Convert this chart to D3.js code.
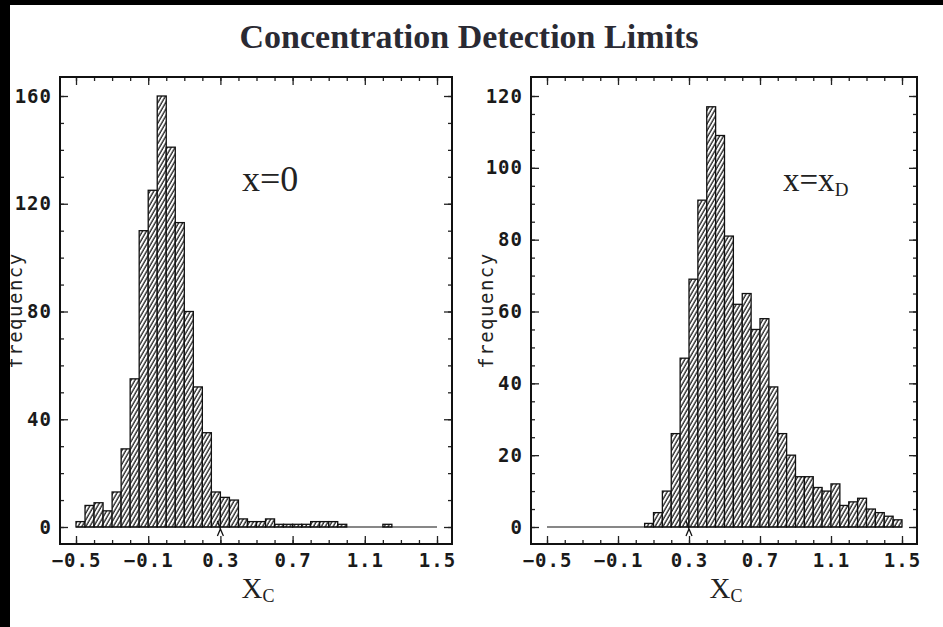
<!DOCTYPE html>
<html lang="en">
<head>
<meta charset="UTF-8">
<title>Concentration Detection Limits</title>
<script src="https://cdn.jsdelivr.net/npm/d3@7"></script>
<style>
  html, body { margin: 0; background: #fff; overflow: hidden; }
  svg { display: block; }
  .tick text { font-family: "DejaVu Sans Mono", monospace; font-weight: bold; font-size: 19px; fill: #1a1a1a; letter-spacing: 1px; }
</style>
</head>
<body>
<script>

// bin lower edges (width 0.05)
const binLo = [-0.5, -0.45, -0.4, -0.35, -0.3, -0.25, -0.2, -0.15, -0.1, -0.05,
               0.0, 0.05, 0.1, 0.15, 0.2, 0.25, 0.3, 0.35, 0.4, 0.45,
               0.5, 0.55, 0.6, 0.65, 0.7, 0.75, 0.8, 0.85, 0.9, 0.95,
               1.0, 1.05, 1.1, 1.15, 1.2, 1.25, 1.3, 1.35, 1.4, 1.45];
const binWidth = 0.05;

const countsZero = [2, 8, 9, 6, 13, 29, 55, 110, 125, 160,
                    141, 113, 80, 52, 35, 13, 11, 10, 3, 2,
                    2, 3, 1, 1, 1, 1, 2, 2, 2, 1,
                    0, 0, 0, 0, 1, 0, 0, 0, 0, 0];
const countsXD = [0, 0, 0, 0, 0, 0, 0, 0, 0, 0,
                  0, 1, 4, 10, 26, 47, 69, 91, 117, 109,
                  81, 62, 65, 55, 58, 39, 26, 20, 14, 14,
                  11, 10, 12, 6, 7, 8, 5, 4, 3, 2];

const xMajor = [-0.5, -0.1, 0.3, 0.7, 1.1, 1.5];
const xMinor = [-0.5, -0.4, -0.3, -0.2, -0.1, 0.0, 0.1, 0.2, 0.3, 0.4, 0.5,
                0.6, 0.7, 0.8, 0.9, 1.0, 1.1, 1.2, 1.3, 1.4, 1.5];
const yMajorZero = [0, 40, 80, 120, 160];
const yMinorZero = [0, 10, 20, 30, 40, 50, 60, 70, 80, 90, 100, 110, 120, 130, 140, 150, 160];
const yMajorXD = [0, 20, 40, 60, 80, 100, 120];
const yMinorXD = [0, 5, 10, 15, 20, 25, 30, 35, 40, 45, 50, 55, 60, 65, 70, 75, 80, 85, 90, 95, 100, 105, 110, 115, 120];
const markX = 0.3;

const W = 943, H = 627;
const svg = d3.select("body").append("svg").attr("width", W).attr("height", H);

const defs = svg.append("defs");
const pat = defs.append("pattern")
    .attr("id", "hatch")
    .attr("patternUnits", "userSpaceOnUse")
    .attr("width", 3.4).attr("height", 10)
    .attr("patternTransform", "rotate(30)");
pat.append("rect").attr("width", 3.4).attr("height", 10).attr("fill", "#fff");
pat.append("line").attr("x1", 1).attr("x2", 1).attr("y1", 0).attr("y2", 10)
    .attr("stroke", "#1a1a1a").attr("stroke-width", 1.3);

svg.append("text")
    .attr("x", 469).attr("y", 48)
    .attr("text-anchor", "middle")
    .attr("font-family", "Liberation Serif, serif")
    .attr("font-weight", "bold")
    .attr("font-size", 34)
    .attr("fill", "#2a2a33")
    .text("Concentration Detection Limits");

function panel(left, right, counts, yMax, yMajor, yMinor, label, sub) {
    const top = 77, bottom = 544;
    const x = d3.scaleLinear().domain([-0.5, 1.5]).range([left + 16, right - 15]);
    const y = d3.scaleLinear().domain([0, yMax]).range([527, 96]);
    const g = svg.append("g");

    // bars
    g.append("g").selectAll("rect")
        .data(counts.map((c, i) => ({lo: binLo[i], c})).filter(d => d.c > 0))
        .join("rect")
        .attr("x", d => x(d.lo))
        .attr("width", d => x(d.lo + binWidth) - x(d.lo))
        .attr("y", d => y(d.c))
        .attr("height", d => y(0) - y(d.c))
        .attr("fill", "url(#hatch)")
        .attr("stroke", "#111")
        .attr("stroke-width", 1.3);

    // baseline
    g.append("line")
        .attr("x1", x(-0.5)).attr("x2", x(1.5))
        .attr("y1", y(0)).attr("y2", y(0))
        .attr("stroke", "#111").attr("stroke-width", 1.2);

    // small arrow at x = 0.3
    const mx = x(markX);
    g.append("path")
        .attr("d", `M${mx - 3},${y(0) + 9} L${mx},${y(0) + 2} L${mx + 3},${y(0) + 9} M${mx},${y(0) + 2} L${mx - 3},${y(0) - 6}`)
        .attr("fill", "none").attr("stroke", "#111").attr("stroke-width", 1.3);

    // axes
    const ax = (a, tr) => g.append("g").attr("transform", tr).call(a).call(s => s.select(".domain").remove());
    ax(d3.axisBottom(x).tickValues(xMinor).tickSize(-4).tickFormat(""), `translate(0,${bottom})`);
    ax(d3.axisBottom(x).tickValues(xMajor).tickSize(-8).tickPadding(10).tickFormat(d3.format(".1f")), `translate(0,${bottom})`);
    ax(d3.axisTop(x).tickValues(xMinor).tickSize(-4).tickFormat(""), `translate(0,${top})`);
    ax(d3.axisTop(x).tickValues(xMajor).tickSize(-8).tickFormat(""), `translate(0,${top})`);
    ax(d3.axisLeft(y).tickValues(yMinor).tickSize(-4).tickFormat(""), `translate(${left},0)`);
    ax(d3.axisLeft(y).tickValues(yMajor).tickSize(-8).tickPadding(8).tickFormat(d3.format("d")), `translate(${left},0)`);
    ax(d3.axisRight(y).tickValues(yMinor).tickSize(-4).tickFormat(""), `translate(${right},0)`);
    ax(d3.axisRight(y).tickValues(yMajor).tickSize(-8).tickFormat(""), `translate(${right},0)`);
    g.selectAll(".tick line").attr("stroke", "#222").attr("stroke-width", 1.3);

    // frame
    g.append("rect")
        .attr("x", left).attr("y", top)
        .attr("width", right - left).attr("height", bottom - top)
        .attr("fill", "none").attr("stroke", "#111").attr("stroke-width", 2);

    // y label
    g.append("text")
        .attr("transform", `translate(${left - 38},${(top + bottom) / 2}) rotate(-90)`)
        .attr("text-anchor", "middle")
        .attr("font-family", "DejaVu Sans Mono, monospace")
        .attr("font-size", 19)
        .attr("letter-spacing", 1.5)
        .attr("fill", "#222")
        .text("frequency");

    // x label
    const xl = g.append("text")
        .attr("x", (left + right) / 2 + 2).attr("y", 598)
        .attr("text-anchor", "middle")
        .attr("font-family", "Liberation Serif, serif")
        .attr("font-size", 29)
        .attr("fill", "#222");
    xl.append("tspan").text("X");
    xl.append("tspan").attr("font-size", 18).attr("dy", 4).text("C");

    // annotation
    const an = g.append("text")
        .attr("x", label.x).attr("y", 191)
        .attr("font-family", "Liberation Serif, serif")
        .attr("font-size", label.size)
        .attr("fill", "#222");
    an.append("tspan").text(label.text);
    if (sub) an.append("tspan").attr("font-size", 19).attr("dy", 5).text(sub);
}

panel(60, 452, countsZero, 160, yMajorZero, yMinorZero, {x: 242, text: "x=0", size: 36}, null);
panel(531, 917, countsXD, 120, yMajorXD, yMinorXD, {x: 783, text: "x=x", size: 33}, "D");

// black scan borders
svg.append("rect").attr("x", 0).attr("y", 0).attr("width", 10).attr("height", H).attr("fill", "#000");
svg.append("rect").attr("x", 0).attr("y", 0).attr("width", W).attr("height", 5).attr("fill", "#000");

</script>
</body>
</html>
